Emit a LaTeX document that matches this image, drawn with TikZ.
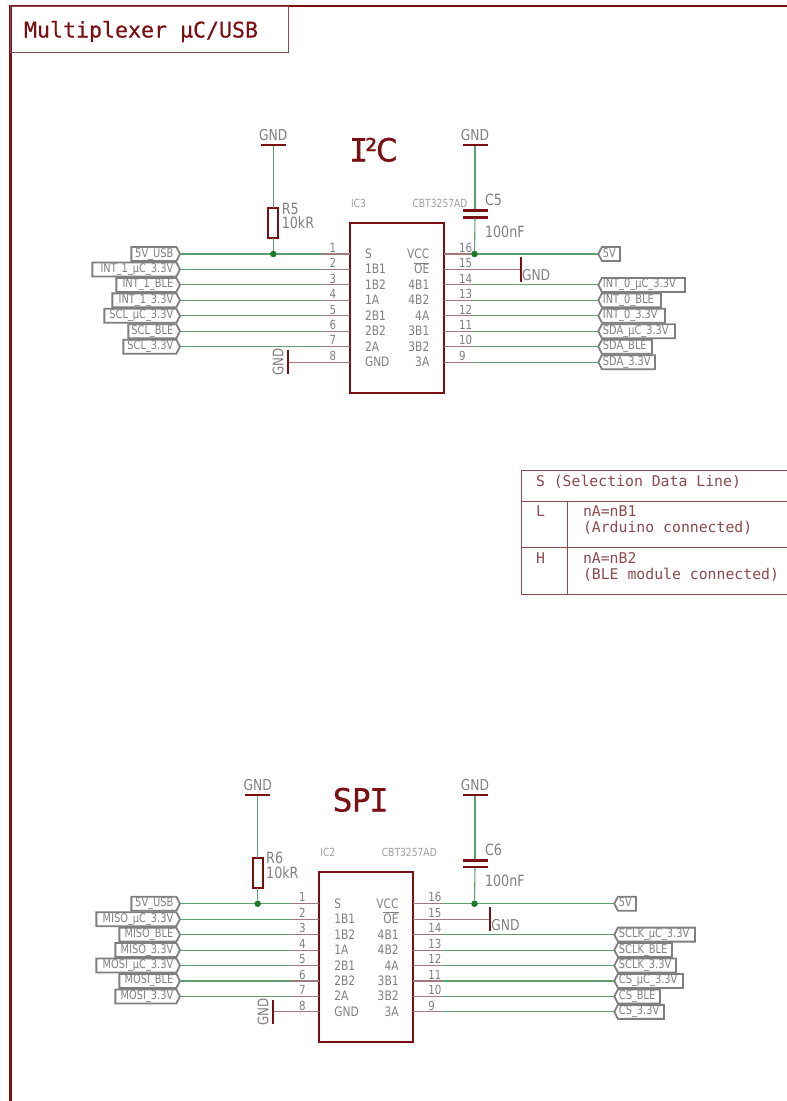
\documentclass[tikz,border=0pt]{standalone}
\usepackage{fontspec}
\usetikzlibrary{shapes.symbols}
\setmainfont[FakeStretch=0.82]{DejaVu Sans}
\newfontfamily\vecfont{DejaVu Sans Mono}
\newfontfamily\vecbold[FakeBold=0.4]{DejaVu Sans Mono}
\newfontfamily\titlefont[FakeBold=0.6,FakeStretch=0.94]{DejaVu Sans}
\newfontfamily\titlemono[FakeBold=0.6]{DejaVu Sans Mono}
\newcommand\fsz[1]{\fontsize{#1}{#1}\selectfont}
\newcommand\tagstrut{\rule[-3pt]{0pt}{12pt}}
\definecolor{frame}{HTML}{7A1012}
\definecolor{thinred}{HTML}{8C4A4C}
\definecolor{wirec}{HTML}{5E9E6E}
\definecolor{pinc}{HTML}{A07A7A}
\definecolor{junc}{HTML}{1A7A2A}
\definecolor{txt}{HTML}{808080}
\definecolor{tagc}{HTML}{7F7F7F}
\tikzset{
  x=1pt,y=-1pt,
  every node/.style={inner sep=0,outer sep=0},
  wire/.style={draw=wirec,line width=1.1pt},
  pinline/.style={draw=pinc,line width=1.1pt},
  hbar/.style={fill=frame,minimum width=25pt,minimum height=2pt},
  vbar/.style={fill=frame,minimum width=2pt,minimum height=24.5pt},
  plate/.style={fill=frame,minimum width=25pt,minimum height=2.6pt},
  dotn/.style={circle,fill=junc,minimum size=6.5pt},
  txtn/.style={text=txt},
  gndtop/.style={text=txt,font=\fsz{15}},
  reflbl/.style={text=txt,anchor=west,font=\fsz{15.5}},
  pinname/.style={text=txt,font=\fsz{13}},
  pinnum/.style={text=txt,font=\fsz{12.5}},
  icname/.style={text=txt!75,font=\fsz{11.2}},
  icbox/.style={draw=frame,line width=1.9pt,fill=white,minimum width=94pt,minimum height=170pt,anchor=north west},
  res/.style={draw=frame,line width=1.7pt,fill=white,minimum width=10pt,minimum height=30pt,anchor=north},
  tagbase/.style={shape=signal,draw=tagc,line width=1.8pt,fill=white,text=txt,font=\fsz{12},
     signal pointer angle=125,inner xsep=0pt,inner ysep=1pt},
  tagl/.style={tagbase,signal to=east,signal from=nowhere,anchor=east},
  tagr/.style={tagbase,signal to=west,signal from=nowhere,anchor=west},
  vec/.style={text=thinred,font=\vecfont\fsz{14.8},anchor=base west},
  tline/.style={draw=thinred,line width=0.9pt},
}
\newcommand\Block{%
  % IC
  \node[icbox] (\P ic) at (\ICX,222.7+\DY) {};
  \node[icname,anchor=west] (\P icn) at (\ICX+1,203+\DY) {\ICN};
  \node[icname,anchor=west] (\P ict) at (\ICX+62.5,203+\DY) {CBT3257AD};
  % left side
  \foreach \n/\t/\lx in \LL {
    \pgfmathsetmacro\yy{254+15.45*(\n-1)+\DY}
    \pgfmathsetmacro\bw{175-\lx}
    \node[tagl] (\P tl\n) at (180,\yy) {\makebox[\bw pt][r]{\tagstrut\t\hspace{3pt}}};
    \coordinate (\P ls\n) at (\ICX-28,\yy);
    \coordinate (\P la\n) at (\ICX,\yy);
    \draw[wire] (\P tl\n.east) -- (\P ls\n);
    \draw[pinline] (\P ls\n) -- (\P la\n);
  }
  \foreach \n/\t in {1/S,2/1B1,3/1B2,4/1A,5/2B1,6/2B2,7/2A,8/GND} {
    \pgfmathsetmacro\yy{254+15.45*(\n-1)+\DY}
    \node[pinname,anchor=base west] (\P ln\n) at (\ICX+15,\yy+4.5) {\t};
    \node[pinnum,anchor=base] (\P lp\n) at (\ICX-17,\yy-1.8) {\n};
  }
  % pin 8 gnd
  \pgfmathsetmacro\yy{254+15.45*7+\DY}
  \coordinate (\P la8) at (\ICX,\yy);
  \node[vbar] (\P g8) at (\GX,\yy) {};
  \draw[pinline] (\P la8) -- (\P g8);
  \node[txtn,rotate=90,font=\fsz{14.5}] (\P g8t) at (\GX-10.3,\yy) {GND};
  % right side
  \foreach \n/\pn/\t/\w in \RL {
    \pgfmathsetmacro\yy{254+15.45*(\n-1)+\DY}
    \pgfmathsetmacro\bw{\w-7}
    \node[tagr] (\P tr\n) at (\RT,\yy) {\makebox[\bw pt][l]{\tagstrut\hspace{1pt}\t}};
    \coordinate (\P rs\n) at (\ICX+123,\yy);
    \coordinate (\P ra\n) at (\ICX+94,\yy);
    \draw[wire] (\P tr\n.west) -- (\P rs\n);
    \draw[pinline] (\P rs\n) -- (\P ra\n);
  }
  \foreach \n/\pn/\t in {1/16/VCC,2/15/$\overline{\mbox{OE}}$,3/14/4B1,4/13/4B2,5/12/4A,6/11/3B1,7/10/3B2,8/9/3A} {
    \pgfmathsetmacro\yy{254+15.45*(\n-1)+\DY}
    \node[pinname,anchor=base east] (\P rn\n) at (\ICX+79.3,\yy+4.5) {\t};
    \node[pinnum,anchor=base west] (\P rp\n) at (\ICX+109,\yy-1.8) {\pn};
  }
  % pin 15 gnd
  \pgfmathsetmacro\yy{254+15.45+\DY}
  \coordinate (\P ra15) at (\ICX+94,\yy);
  \node[vbar] (\P g15) at (\ICX+171,\yy) {};
  \draw[pinline] (\P ra15) -- (\P g15);
  \node[txtn,anchor=west,font=\fsz{15}] (\P g15t) at (\ICX+172,\yy+6) {GND};
  % resistor
  \node[res] (\P r) at (\RX,208+\DY) {};
  \node[reflbl] (\P rl) at (\RX+8.5,208.5+\DY) {\RN};
  \node[reflbl] (\P rv) at (\RX+8.5,222.7+\DY) {10kR};
  \node[hbar] (\P rg) at (\RX,145+\DY) {};
  \node[gndtop] (\P rgt) at (\RX,135+\DY) {GND};
  \node[dotn] (\P rd) at (\RX,254+\DY) {};
  \draw[wire] (\P rg) -- (\P r.north);
  \draw[wire] (\P r.south) -- (\P rd);
  % capacitor
  \node[plate] (\P c1) at (475,210.7+\DY) {};
  \node[plate] (\P c2) at (475,217.3+\DY) {};
  \node[hbar] (\P cg) at (475,145+\DY) {};
  \node[gndtop] (\P cgt) at (475,135+\DY) {GND};
  \node[dotn] (\P cd) at (474.5,254+\DY) {};
  \draw[wire] (\P cg) -- (\P c1);
  \draw[wire] (\P c2) -- (\P cd);
  \node[reflbl] (\P cl) at (485,200+\DY) {\CN};
  \node[reflbl] (\P cv) at (485,231.5+\DY) {100nF};
}
\begin{document}
\begin{tikzpicture}
\useasboundingbox (0,0) rectangle (787,1101);
\fill[white] (0,0) rectangle (787,1101);
% frame
\draw[frame,line width=2.8pt] (10.3,1101) -- (10.3,6) -- (787,6);
\node[draw=thinred,line width=0.9pt,anchor=north west,minimum width=278.4pt,minimum height=46.6pt] (titlebox) at (10.3,6) {};
\node[anchor=base west,text=frame,font=\vecbold\fsz{21.6}] (title) at (24,37.5) {Multiplexer µC/USB};
% section titles
\node[anchor=base west,text=frame,font=\titlefont\fsz{32}] (i2c) at (349,161.5) {{\titlemono I}\kern-3pt²\kern-1pt C};
\node[anchor=base west,text=frame,font=\titlefont\fsz{32}] (spi) at (333,811.5) {SP{\titlemono\kern-1pt I}};
% blocks
\def\P{a}\def\ICX{350}\def\DY{0}\def\RT{598.3}\def\RX{273.3}\def\GX{288.3}\def\ICN{IC3}\def\RN{R5}\def\CN{C5}
\def\LL{1/5V\_USB/130,2/INT\_1\_µC\_3.3V/91,3/INT\_1\_BLE/115,4/INT\_1\_3.3V/111,5/SCL\_µC\_3.3V/103,6/SCL\_BLE/127,7/SCL\_3.3V/122}
\def\RL{1/16/5V/25,3/14/INT\_0\_µC\_3.3V/90,4/13/INT\_0\_BLE/66,5/12/INT\_0\_3.3V/70,6/11/SDA\_µC\_3.3V/80,7/10/SDA\_BLE/57,8/9/SDA\_3.3V/60}
\Block
\def\P{b}\def\ICX{319.3}\def\DY{649.7}\def\RT{614.3}\def\RX{257.7}\def\GX{273.3}\def\ICN{IC2}\def\RN{R6}\def\CN{C6}
\def\LL{1/5V\_USB/130,2/MISO\_µC\_3.3V/95,3/MISO\_BLE/118,4/MISO\_3.3V/114,5/MOSI\_µC\_3.3V/95,6/MOSI\_BLE/118,7/MOSI\_3.3V/114}
\def\RL{1/16/5V/25,3/14/SCLK\_µC\_3.3V/84,4/13/SCLK\_BLE/61,5/12/SCLK\_3.3V/65,6/11/CS\_µC\_3.3V/72,7/10/CS\_BLE/49,8/9/CS\_3.3V/53}
\Block
% table
\node[draw=thinred,line width=0.9pt,anchor=north west,minimum width=270pt,minimum height=124pt] (tbl) at (521,470) {};
\coordinate (tl1) at (521,501.7); \coordinate (tr1) at (787,501.7);
\coordinate (tl2) at (521,547.7); \coordinate (tr2) at (787,547.7);
\coordinate (tv1) at (567.7,501.7); \coordinate (tv2) at (567.7,594);
\draw[tline] (tl1) -- (tr1);
\draw[tline] (tl2) -- (tr2);
\draw[tline] (tv1) -- (tv2);
\node[vec] (t0) at (536,486) {S (Selection Data Line)};
\node[vec] (t1) at (536,516.7) {L};
\node[vec] (t2) at (583,516.7) {nA=nB1};
\node[vec] (t3) at (583,532.7) {(Arduino connected)};
\node[vec] (t4) at (536,563) {H};
\node[vec] (t5) at (583,563) {nA=nB2};
\node[vec] (t6) at (583,579) {(BLE module connected)};
\end{tikzpicture}
\end{document}
